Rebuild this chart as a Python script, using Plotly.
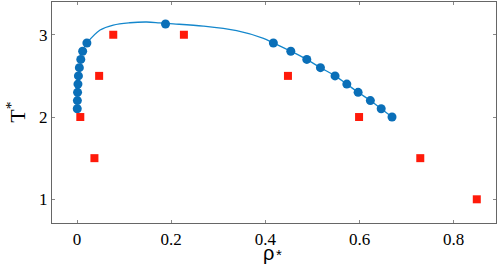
import plotly.graph_objects as go

# Simulation data (blue circles)
sim_rho = [0.0005, 0.0008, 0.0012, 0.002, 0.003, 0.005, 0.008, 0.012, 0.021,
           0.188,
           0.417, 0.454, 0.488, 0.517, 0.548, 0.573, 0.597, 0.623, 0.646, 0.669]
sim_T = [2.1, 2.2, 2.3, 2.4, 2.5, 2.6, 2.7, 2.8, 2.9,
         3.13,
         2.9, 2.8, 2.7, 2.6, 2.5, 2.4, 2.3, 2.2, 2.1, 2.0]

# Fitted coexistence curve
fit_rho = [0.021, 0.049, 0.077, 0.112, 0.148, 0.175, 0.197, 0.268, 0.339, 0.396,
           0.417, 0.454, 0.488, 0.517, 0.548, 0.573, 0.597, 0.623, 0.646, 0.669]
fit_T = [2.9, 3.057, 3.118, 3.146, 3.155, 3.145, 3.135, 3.105, 3.049, 2.956,
         2.9, 2.8, 2.7, 2.6, 2.5, 2.4, 2.3, 2.2, 2.1, 2.0]

# Red squares
sq_rho = [0.007, 0.037, 0.047, 0.077, 0.227, 0.448, 0.599, 0.729, 0.849]
sq_T = [2.0, 1.5, 2.5, 3.0, 3.0, 2.5, 2.0, 1.5, 1.0]

x_ticks = [0, 0.2, 0.4, 0.6, 0.8]
x_ticklabels = ["0", "0.2", "0.4", "0.6", "0.8"]
y_ticks = [1, 2, 3]
y_ticklabels = ["1", "2", "3"]

fig = go.Figure()
fig.add_trace(go.Scatter(x=fit_rho, y=fit_T, mode="lines",
                         line=dict(color="#1487cc", width=1.3, shape="spline", smoothing=1.0),
                         hoverinfo="skip", showlegend=False))
fig.add_trace(go.Scatter(x=sim_rho, y=sim_T, mode="markers",
                         marker=dict(symbol="circle", size=9, color="#0a6fb8"),
                         showlegend=False))
fig.add_trace(go.Scatter(x=sq_rho, y=sq_T, mode="markers",
                         marker=dict(symbol="square", size=8, color="#ff1a0a"),
                         showlegend=False))

serif = "Liberation Serif"
axis_common = dict(showgrid=False, zeroline=False, showline=True, linecolor="#666666",
                   linewidth=1.2, mirror="ticks", ticks="inside", ticklen=3,
                   tickcolor="#888888", tickwidth=1, automargin=False,
                   tickfont=dict(family=serif, size=17, color="black"))

fig.update_layout(
    width=498, height=276,
    margin=dict(l=52, r=2, t=2, b=53),
    plot_bgcolor="white", paper_bgcolor="white",
    font=dict(family=serif, color="black"),
    xaxis=dict(range=[-0.0531, 0.8898], tickvals=x_ticks, ticktext=x_ticklabels,
               **axis_common),
    yaxis=dict(range=[0.712, 3.398], tickvals=y_ticks, ticktext=y_ticklabels,
               **axis_common),
    annotations=[
        dict(text="ρ", xref="paper", yref="paper", x=0.4865, y=-0.08,
             xanchor="center", yanchor="top", showarrow=False, borderpad=0,
             font=dict(family="Liberation Sans", size=20, color="black")),
        dict(text="*", xref="paper", yref="paper", x=0.511, y=-0.1,
             xanchor="center", yanchor="top", showarrow=False, borderpad=0,
             font=dict(family="Liberation Sans", size=15, color="black")),
        dict(text="T<sup>*</sup>", xref="paper", yref="paper", x=-0.083, y=0.5,
             xanchor="center", yanchor="middle", textangle=-90, showarrow=False,
             font=dict(family=serif, size=22, color="black")),
    ],
)

fig.write_html("out.html", config={"displayModeBar": False},
               post_script="document.body.style.margin='0';document.body.style.padding='0';")
